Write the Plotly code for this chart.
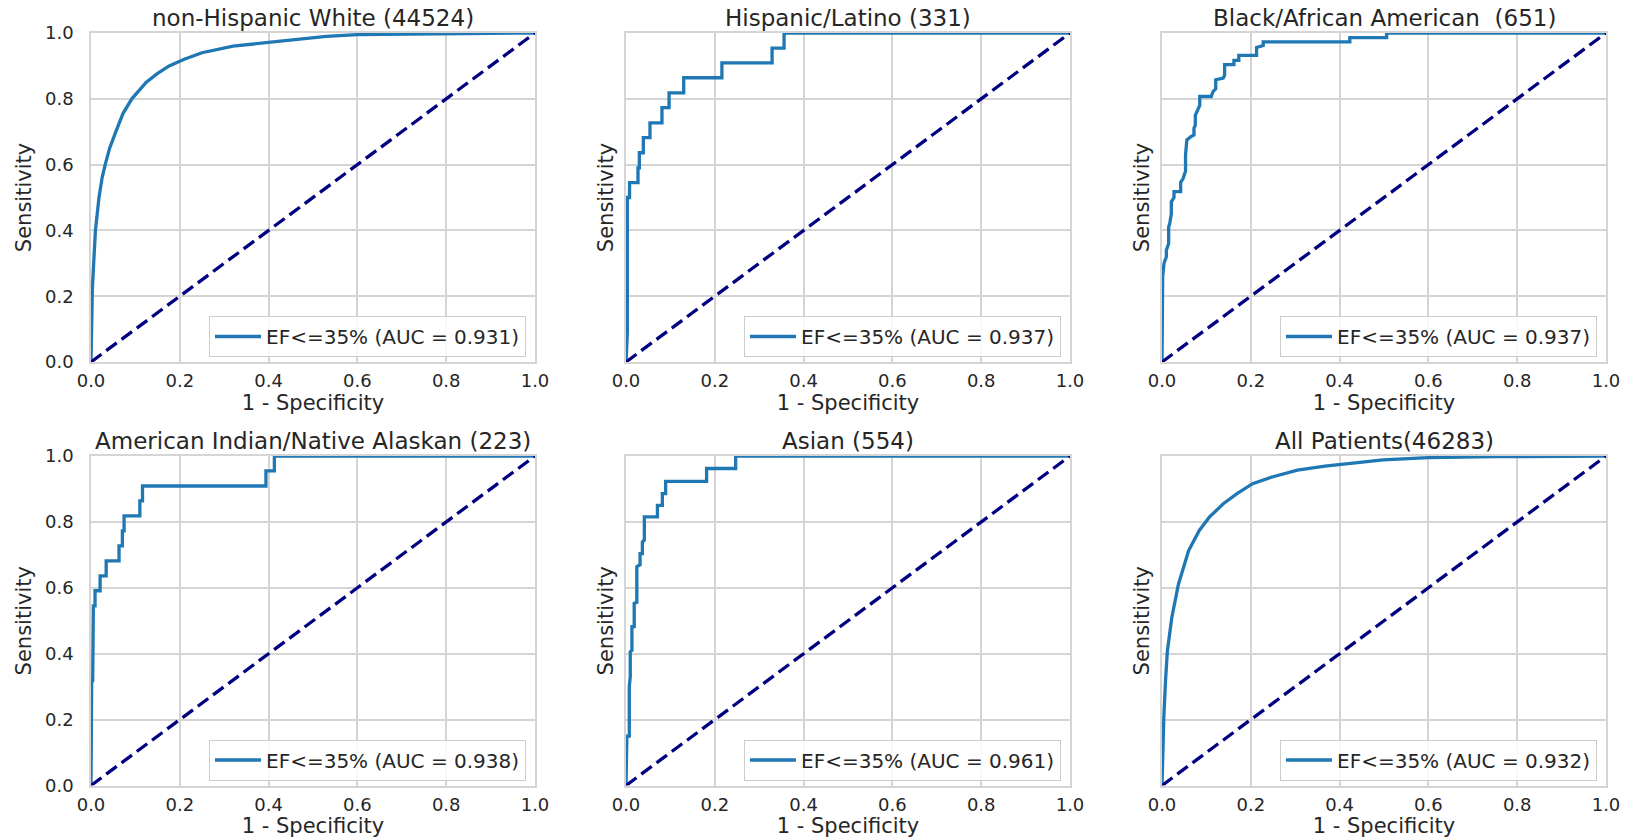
import plotly.graph_objects as go

# ---------------- data ----------------
titles = ["non-Hispanic White (44524)", "Hispanic/Latino (331)", "Black/African American\u00a0 (651)",
          "American Indian/Native Alaskan (223)", "Asian (554)", "All Patients(46283)"]
auc_values = ["0.931", "0.937", "0.937", "0.938", "0.961", "0.932"]
series_label = "EF<=35%"

white_fpr = [0, 0.001, 0.003, 0.006, 0.010, 0.018, 0.025, 0.032, 0.042, 0.056, 0.072, 0.092, 0.108,
             0.124, 0.15, 0.176, 0.21, 0.25, 0.32, 0.40, 0.46, 0.53, 0.60, 0.75, 0.9, 1.0]
white_tpr = [0, 0.10, 0.22, 0.30, 0.40, 0.50, 0.56, 0.60, 0.65, 0.70, 0.755, 0.80, 0.826,
             0.85, 0.877, 0.90, 0.92, 0.94, 0.96, 0.972, 0.982, 0.99, 0.995, 0.998, 0.999, 1.0]

hisp_fpr = [0, 0.003, 0.003, 0.008, 0.008, 0.027, 0.027, 0.030, 0.030, 0.039, 0.039, 0.054, 0.054,
            0.081, 0.081, 0.097, 0.097, 0.130, 0.130, 0.216, 0.216, 0.329, 0.329, 0.356, 0.356, 1.0]
hisp_tpr = [0, 0.09, 0.50, 0.50, 0.545, 0.545, 0.59, 0.59, 0.636, 0.636, 0.682, 0.682, 0.727,
            0.727, 0.773, 0.773, 0.818, 0.818, 0.864, 0.864, 0.909, 0.909, 0.954, 0.954, 1.0, 1.0]

black_fpr = [0, 0.0, 0.0015, 0.0015, 0.0045, 0.0098, 0.0098, 0.015, 0.015, 0.0173, 0.021, 0.021,
             0.027, 0.027, 0.042, 0.042, 0.047, 0.053, 0.053, 0.056, 0.056, 0.065, 0.072, 0.072,
             0.075, 0.075, 0.080, 0.085, 0.085, 0.111, 0.115, 0.121, 0.121, 0.138, 0.141, 0.141,
             0.162, 0.162, 0.173, 0.173, 0.213, 0.213, 0.228, 0.228, 0.423, 0.423, 0.506, 0.506, 1.0]
black_tpr = [0, 0.16, 0.16, 0.26, 0.30, 0.32, 0.34, 0.36, 0.41, 0.42, 0.45, 0.487,
             0.50, 0.518, 0.518, 0.546, 0.556, 0.58, 0.63, 0.66, 0.675, 0.685, 0.69, 0.71,
             0.72, 0.75, 0.766, 0.78, 0.807, 0.807, 0.822, 0.83, 0.858, 0.863, 0.872, 0.904,
             0.904, 0.917, 0.917, 0.932, 0.932, 0.956, 0.962, 0.973, 0.973, 0.986, 0.986, 1.0, 1.0]

amind_fpr = [0, 0.0015, 0.0038, 0.0038, 0.0053, 0.0053, 0.0091, 0.0091, 0.0205, 0.0205, 0.0342,
             0.0342, 0.0631, 0.0631, 0.0707, 0.0707, 0.0745, 0.0745, 0.110, 0.110, 0.116, 0.116,
             0.394, 0.394, 0.413, 0.413, 1.0]
amind_tpr = [0, 0.318, 0.318, 0.409, 0.409, 0.545, 0.545, 0.591, 0.591, 0.636, 0.636,
             0.682, 0.682, 0.727, 0.727, 0.773, 0.773, 0.818, 0.818, 0.864, 0.864, 0.909,
             0.909, 0.955, 0.955, 1.0, 1.0]

asian_fpr = [0, 0.002, 0.0074, 0.0074, 0.0096, 0.0096, 0.0133, 0.0133, 0.0185, 0.0185, 0.0244,
             0.0244, 0.0317, 0.0317, 0.0369, 0.0369, 0.0413, 0.0413, 0.0708, 0.0708, 0.0819,
             0.0819, 0.0893, 0.0893, 0.1815, 0.1815, 0.247, 0.247, 1.0]
asian_tpr = [0, 0.15, 0.15, 0.30, 0.33, 0.406, 0.41, 0.482, 0.482, 0.553, 0.556,
             0.664, 0.67, 0.704, 0.704, 0.739, 0.745, 0.815, 0.815, 0.85, 0.85,
             0.886, 0.886, 0.923, 0.923, 0.962, 0.962, 1.0, 1.0]

all_fpr = [0, 0.001, 0.004, 0.008, 0.012, 0.022, 0.037, 0.06, 0.084, 0.107, 0.138, 0.169, 0.204,
           0.25, 0.305, 0.367, 0.429, 0.498, 0.6, 0.75, 1.0]
all_tpr = [0, 0.08, 0.204, 0.32, 0.407, 0.509, 0.611, 0.713, 0.774, 0.815, 0.855, 0.886, 0.916,
           0.937, 0.957, 0.969, 0.978, 0.988, 0.995, 0.998, 1.0]

chance_x = [0, 1]
chance_y = [0, 1]

tick_vals = [0, 0.2, 0.4, 0.6, 0.8, 1.0]
tick_text = ["0.0", "0.2", "0.4", "0.6", "0.8", "1.0"]
x_title = "1 - Specificity"
y_title = "Sensitivity"

curves = [(white_fpr, white_tpr), (hisp_fpr, hisp_tpr), (black_fpr, black_tpr),
          (amind_fpr, amind_tpr), (asian_fpr, asian_tpr), (all_fpr, all_tpr)]

# ---------------- layout geometry ----------------
W, H = 1632, 838
col_px = [(91, 535), (626, 1070), (1162, 1606)]
row_px = [(33, 362), (456, 785.5)]

FONT = "DejaVu Sans"
TXT = "#262626"
GRID = "#d5d5d5"

fig = go.Figure()
layout = dict(
    width=W, height=H,
    margin=dict(l=0, r=0, t=0, b=0),
    paper_bgcolor="white", plot_bgcolor="white",
    font=dict(family=FONT, color=TXT, size=18),
    showlegend=True,
    annotations=[],
)

for i, (fx, ty) in enumerate(curves):
    r, c = divmod(i, 3)
    n = i + 1
    xa = "x" if n == 1 else f"x{n}"
    ya = "y" if n == 1 else f"y{n}"
    leg = "legend" if n == 1 else f"legend{n}"
    x0, x1 = col_px[c]
    y0, y1 = row_px[r]

    fig.add_trace(go.Scatter(
        x=fx, y=ty, mode="lines", xaxis=xa, yaxis=ya, legend=leg,
        name=f"{series_label} (AUC = {auc_values[i]})",
        line=dict(color="#1f77b4", width=3.3),
        hoverinfo="skip",
    ))
    fig.add_trace(go.Scatter(
        x=chance_x, y=chance_y, mode="lines", xaxis=xa, yaxis=ya, showlegend=False,
        line=dict(color="#000080", width=3.3, dash="13px,6px"),
        hoverinfo="skip",
    ))

    layout["xaxis" if n == 1 else f"xaxis{n}"] = dict(
        domain=[x0 / W, x1 / W], anchor=ya, range=[0, 1],
        tickvals=tick_vals, ticktext=tick_text, ticks="", ticklabelstandoff=2,
        showgrid=True, gridcolor=GRID, gridwidth=1.5, zeroline=False,
        showline=True, linecolor=GRID, linewidth=1.5, mirror=True,
        tickfont=dict(size=18, family=FONT, color=TXT),
        title=dict(text=x_title, font=dict(size=21, family=FONT, color=TXT), standoff=2),
        automargin=False, fixedrange=True,
    )
    left = (c == 0)
    layout["yaxis" if n == 1 else f"yaxis{n}"] = dict(
        domain=[1 - y1 / H, 1 - y0 / H], anchor=xa, range=[0, 1],
        tickvals=tick_vals, ticktext=tick_text, ticks="",
        showticklabels=left, ticklabelstandoff=12,
        showgrid=True, gridcolor=GRID, gridwidth=1.5, zeroline=False,
        showline=True, linecolor=GRID, linewidth=1.5, mirror=True,
        tickfont=dict(size=18, family=FONT, color=TXT),
        title=dict(text=y_title, font=dict(size=21, family=FONT, color=TXT),
                   standoff=8 if left else 5),
        automargin=False, fixedrange=True,
    )
    layout[leg] = dict(
        x=(x1 - 9) / W, y=1 - (y1 - 5) / H, xanchor="right", yanchor="bottom",
        xref="paper", yref="paper",
        bgcolor="rgba(255,255,255,0.85)", bordercolor="#cccccc", borderwidth=1,
        font=dict(size=20, family=FONT, color=TXT), itemwidth=46,
    )
    layout["annotations"].append(dict(
        text=titles[i], x=(x0 + x1) / 2 / W, y=1 - y0 / H, xref="paper", yref="paper",
        xanchor="center", yanchor="middle", yshift=15, showarrow=False,
        font=dict(size=23, family=FONT, color=TXT),
    ))

fig.update_layout(**layout)
fig.write_html(
    "out.html",
    config={"displayModeBar": False},
    post_script="document.body.style.margin='0';document.body.style.overflow='hidden';",
)
